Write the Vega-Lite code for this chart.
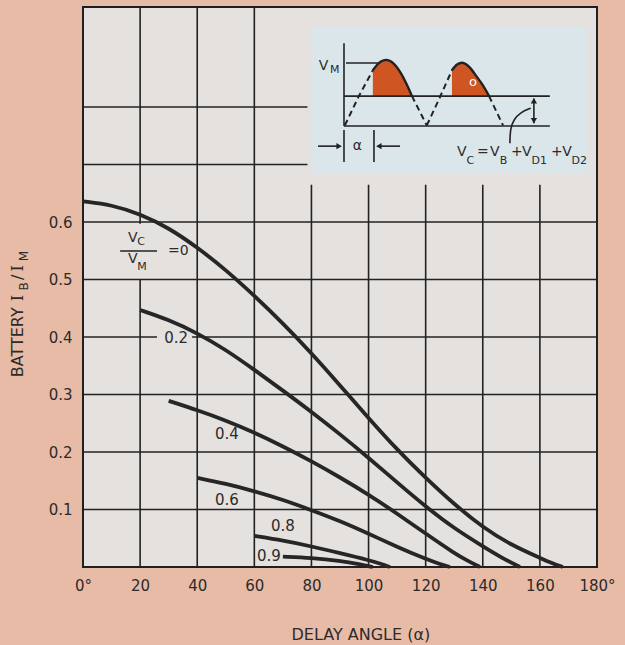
{
  "$schema": "https://vega.github.io/schema/vega-lite/v6.json",
  "width": 514,
  "height": 560,
  "autosize": {"type": "none"},
  "padding": {"left": 83, "top": 7, "right": 28, "bottom": 78},
  "background": "#e8bba6",
  "config": {
    "view": {"stroke": "#1f1f1f", "strokeWidth": 2, "fill": "#e5e1de"}
  },
  "datasets": {
    "grid": [
      {"x": 20, "x2": 20, "y": 0, "y2": 0.5},
      {"x": 20, "x2": 20, "y": 0.597, "y2": 0.974},
      {"x": 40, "x2": 40, "y": 0, "y2": 0.974},
      {"x": 60, "x2": 60, "y": 0, "y2": 0.974},
      {"x": 80, "x2": 80, "y": 0, "y2": 0.665},
      {"x": 100, "x2": 100, "y": 0, "y2": 0.665},
      {"x": 120, "x2": 120, "y": 0, "y2": 0.665},
      {"x": 140, "x2": 140, "y": 0, "y2": 0.665},
      {"x": 160, "x2": 160, "y": 0, "y2": 0.665},
      {"x": 0, "x2": 180, "y": 0.1, "y2": 0.1},
      {"x": 0, "x2": 180, "y": 0.2, "y2": 0.2},
      {"x": 0, "x2": 180, "y": 0.3, "y2": 0.3},
      {"x": 0, "x2": 25.9, "y": 0.4, "y2": 0.4},
      {"x": 38.2, "x2": 180, "y": 0.4, "y2": 0.4},
      {"x": 0, "x2": 180, "y": 0.5, "y2": 0.5},
      {"x": 0, "x2": 180, "y": 0.6, "y2": 0.6},
      {"x": 0, "x2": 78.6, "y": 0.7, "y2": 0.7},
      {"x": 0, "x2": 78.6, "y": 0.8, "y2": 0.8}
    ],
    "curves": [
      {"ratio": "0", "x": 0, "y": 0.636},
      {"ratio": "0", "x": 10, "y": 0.630},
      {"ratio": "0", "x": 20, "y": 0.614},
      {"ratio": "0", "x": 30, "y": 0.590},
      {"ratio": "0", "x": 40, "y": 0.556},
      {"ratio": "0", "x": 50, "y": 0.517},
      {"ratio": "0", "x": 60, "y": 0.472},
      {"ratio": "0", "x": 70, "y": 0.424},
      {"ratio": "0", "x": 80, "y": 0.372},
      {"ratio": "0", "x": 90, "y": 0.316},
      {"ratio": "0", "x": 100, "y": 0.259},
      {"ratio": "0", "x": 110, "y": 0.204},
      {"ratio": "0", "x": 120, "y": 0.155},
      {"ratio": "0", "x": 130, "y": 0.109},
      {"ratio": "0", "x": 140, "y": 0.069},
      {"ratio": "0", "x": 150, "y": 0.038},
      {"ratio": "0", "x": 160, "y": 0.016},
      {"ratio": "0", "x": 164, "y": 0.007},
      {"ratio": "0", "x": 168, "y": 0.0},
      {"ratio": "0.2", "x": 20, "y": 0.447},
      {"ratio": "0.2", "x": 30, "y": 0.430},
      {"ratio": "0.2", "x": 40, "y": 0.407},
      {"ratio": "0.2", "x": 50, "y": 0.378},
      {"ratio": "0.2", "x": 60, "y": 0.343},
      {"ratio": "0.2", "x": 70, "y": 0.307},
      {"ratio": "0.2", "x": 80, "y": 0.270},
      {"ratio": "0.2", "x": 90, "y": 0.231},
      {"ratio": "0.2", "x": 100, "y": 0.190},
      {"ratio": "0.2", "x": 110, "y": 0.147},
      {"ratio": "0.2", "x": 120, "y": 0.105},
      {"ratio": "0.2", "x": 130, "y": 0.067},
      {"ratio": "0.2", "x": 140, "y": 0.036},
      {"ratio": "0.2", "x": 147, "y": 0.015},
      {"ratio": "0.2", "x": 153, "y": 0.0},
      {"ratio": "0.4", "x": 30, "y": 0.289},
      {"ratio": "0.4", "x": 40, "y": 0.273},
      {"ratio": "0.4", "x": 50, "y": 0.255},
      {"ratio": "0.4", "x": 60, "y": 0.234},
      {"ratio": "0.4", "x": 70, "y": 0.210},
      {"ratio": "0.4", "x": 80, "y": 0.184},
      {"ratio": "0.4", "x": 90, "y": 0.156},
      {"ratio": "0.4", "x": 100, "y": 0.126},
      {"ratio": "0.4", "x": 110, "y": 0.093},
      {"ratio": "0.4", "x": 120, "y": 0.058},
      {"ratio": "0.4", "x": 130, "y": 0.024},
      {"ratio": "0.4", "x": 135, "y": 0.010},
      {"ratio": "0.4", "x": 139, "y": 0.0},
      {"ratio": "0.6", "x": 40, "y": 0.155},
      {"ratio": "0.6", "x": 50, "y": 0.145},
      {"ratio": "0.6", "x": 60, "y": 0.132},
      {"ratio": "0.6", "x": 70, "y": 0.117},
      {"ratio": "0.6", "x": 80, "y": 0.099},
      {"ratio": "0.6", "x": 90, "y": 0.080},
      {"ratio": "0.6", "x": 100, "y": 0.058},
      {"ratio": "0.6", "x": 110, "y": 0.035},
      {"ratio": "0.6", "x": 120, "y": 0.014},
      {"ratio": "0.6", "x": 125, "y": 0.005},
      {"ratio": "0.6", "x": 128.5, "y": 0.0},
      {"ratio": "0.8", "x": 60, "y": 0.054},
      {"ratio": "0.8", "x": 70, "y": 0.046},
      {"ratio": "0.8", "x": 80, "y": 0.036},
      {"ratio": "0.8", "x": 90, "y": 0.024},
      {"ratio": "0.8", "x": 100, "y": 0.012},
      {"ratio": "0.8", "x": 104, "y": 0.006},
      {"ratio": "0.8", "x": 107.5, "y": 0.0},
      {"ratio": "0.9", "x": 70, "y": 0.018},
      {"ratio": "0.9", "x": 80, "y": 0.016},
      {"ratio": "0.9", "x": 90, "y": 0.011},
      {"ratio": "0.9", "x": 97, "y": 0.005},
      {"ratio": "0.9", "x": 101.5, "y": 0.0}
    ],
    "curve_labels": [
      {"x": 32.6, "y": 0.398, "label": "0.2"},
      {"x": 50.4, "y": 0.231, "label": "0.4"},
      {"x": 50.4, "y": 0.117, "label": "0.6"},
      {"x": 70.0, "y": 0.071, "label": "0.8"},
      {"x": 65.1, "y": 0.019, "label": "0.9"}
    ],
    "frac_bar": [
      {"x": 13.0, "x2": 25.9, "y": 0.5496, "y2": 0.5496}
    ],
    "frac_main": [
      {"x": 15.8, "y": 0.572, "t": "V"},
      {"x": 15.8, "y": 0.535, "t": "V"},
      {"x": 29.8, "y": 0.55, "t": "=0"}
    ],
    "frac_sub": [
      {"x": 19.0, "y": 0.565, "t": "C"},
      {"x": 19.0, "y": 0.522, "t": "M"}
    ],
    "inset_box": [
      {"x": 80.2, "x2": 176.5, "y": 0.6852, "y2": 0.9374}
    ],
    "inset_fill": [
      {"hump": 1, "x": 101.5, "y": 0.866, "y2": 0.819},
      {"hump": 1, "x": 103.5, "y": 0.876, "y2": 0.819},
      {"hump": 1, "x": 106.2, "y": 0.882, "y2": 0.819},
      {"hump": 1, "x": 108.7, "y": 0.876, "y2": 0.819},
      {"hump": 1, "x": 111.3, "y": 0.859, "y2": 0.819},
      {"hump": 1, "x": 113.3, "y": 0.84, "y2": 0.819},
      {"hump": 1, "x": 115.2, "y": 0.819, "y2": 0.819},
      {"hump": 2, "x": 129.2, "y": 0.866, "y2": 0.819},
      {"hump": 2, "x": 131.0, "y": 0.874, "y2": 0.819},
      {"hump": 2, "x": 132.7, "y": 0.877, "y2": 0.819},
      {"hump": 2, "x": 135.0, "y": 0.871, "y2": 0.819},
      {"hump": 2, "x": 138.0, "y": 0.852, "y2": 0.819},
      {"hump": 2, "x": 140.0, "y": 0.838, "y2": 0.819},
      {"hump": 2, "x": 142.2, "y": 0.819, "y2": 0.819}
    ],
    "inset_dashed": [
      {"seg": 1, "x": 91.7, "y": 0.768},
      {"seg": 1, "x": 96.5, "y": 0.818},
      {"seg": 1, "x": 101.5, "y": 0.864},
      {"seg": 2, "x": 115.2, "y": 0.819},
      {"seg": 2, "x": 120.4, "y": 0.768},
      {"seg": 3, "x": 120.4, "y": 0.768},
      {"seg": 3, "x": 124.8, "y": 0.815},
      {"seg": 3, "x": 129.2, "y": 0.864},
      {"seg": 4, "x": 142.2, "y": 0.819},
      {"seg": 4, "x": 147.1, "y": 0.768}
    ],
    "inset_solid": [
      {"seg": 1, "x": 101.5, "y": 0.864},
      {"seg": 1, "x": 103.5, "y": 0.876},
      {"seg": 1, "x": 106.2, "y": 0.882},
      {"seg": 1, "x": 108.7, "y": 0.876},
      {"seg": 1, "x": 111.3, "y": 0.859},
      {"seg": 1, "x": 113.3, "y": 0.84},
      {"seg": 1, "x": 115.2, "y": 0.819},
      {"seg": 2, "x": 129.2, "y": 0.864},
      {"seg": 2, "x": 131.0, "y": 0.874},
      {"seg": 2, "x": 132.7, "y": 0.877},
      {"seg": 2, "x": 135.0, "y": 0.871},
      {"seg": 2, "x": 138.0, "y": 0.852},
      {"seg": 2, "x": 140.0, "y": 0.838},
      {"seg": 2, "x": 142.2, "y": 0.819}
    ],
    "inset_rules": [
      {"x": 91.4, "x2": 91.4, "y": 0.767, "y2": 0.911},
      {"x": 91.4, "x2": 163.5, "y": 0.767, "y2": 0.767},
      {"x": 91.4, "x2": 163.5, "y": 0.819, "y2": 0.819},
      {"x": 92.1, "x2": 103.3, "y": 0.8765, "y2": 0.8765},
      {"x": 157.9, "x2": 157.9, "y": 0.772, "y2": 0.815},
      {"x": 91.4, "x2": 91.4, "y": 0.7043, "y2": 0.76},
      {"x": 101.9, "x2": 101.9, "y": 0.7043, "y2": 0.76},
      {"x": 82.3, "x2": 90.0, "y": 0.732, "y2": 0.732},
      {"x": 103.3, "x2": 111.0, "y": 0.732, "y2": 0.732}
    ],
    "arrowheads": [
      {"x": 157.9, "y": 0.811, "dir": "up"},
      {"x": 157.9, "y": 0.776, "dir": "down"},
      {"x": 89.7, "y": 0.732, "dir": "right"},
      {"x": 103.6, "y": 0.732, "dir": "left"}
    ],
    "leader": [
      {"i": 0, "x": 149.5, "y": 0.737},
      {"i": 1, "x": 149.6, "y": 0.762},
      {"i": 2, "x": 150.8, "y": 0.778},
      {"i": 3, "x": 153.2, "y": 0.791},
      {"i": 4, "x": 156.8, "y": 0.798}
    ],
    "inset_main": [
      {"x": 82.6, "y": 0.871, "t": "V"},
      {"x": 94.5, "y": 0.732, "t": "α"},
      {"x": 130.95, "y": 0.7217, "t": "V"},
      {"x": 137.95, "y": 0.7217, "t": "="},
      {"x": 142.5, "y": 0.7217, "t": "V"},
      {"x": 149.9, "y": 0.7217, "t": "+"},
      {"x": 153.7, "y": 0.7217, "t": "V"},
      {"x": 163.9, "y": 0.7217, "t": "+"},
      {"x": 167.8, "y": 0.7217, "t": "V"}
    ],
    "inset_sub": [
      {"x": 86.5, "y": 0.864, "t": "M"},
      {"x": 134.3, "y": 0.706, "t": "C"},
      {"x": 145.9, "y": 0.706, "t": "B"},
      {"x": 157.1, "y": 0.706, "t": "D1"},
      {"x": 171.1, "y": 0.706, "t": "D2"}
    ],
    "inset_o": [
      {"x": 136.6, "y": 0.8435, "t": "o"}
    ],
    "ytitle_main": [
      {"x": -22.6, "y": 0.33, "t": "BATTERY"},
      {"x": -22.6, "y": 0.499, "t": "/"}
    ],
    "ytitle_serif": [
      {"x": -22.6, "y": 0.462, "t": "I"},
      {"x": -22.6, "y": 0.514, "t": "I"}
    ],
    "ytitle_sub": [
      {"x": -20.6, "y": 0.481, "t": "B"},
      {"x": -20.6, "y": 0.532, "t": "M"}
    ],
    "xtitle": [
      {"x": 97.3, "y": -0.118, "t": "DELAY ANGLE (α)"}
    ]
  },
  "encoding": {
    "x": {
      "field": "x",
      "type": "quantitative",
      "scale": {"domain": [0, 180], "nice": false, "zero": false},
      "axis": {
        "values": [0, 20, 40, 60, 80, 100, 120, 140, 160, 180],
        "grid": false,
        "ticks": false,
        "domain": false,
        "title": null,
        "labelFlush": false,
        "labelPadding": 11,
        "labelFont": "DejaVu Sans",
        "labelFontSize": 15,
        "labelColor": "#2b2b2b",
        "labelExpr": "datum.value == 0 || datum.value == 180 ? datum.label + '°' : datum.label"
      }
    },
    "y": {
      "field": "y",
      "type": "quantitative",
      "scale": {"domain": [0, 0.974], "nice": false, "zero": false},
      "axis": {
        "values": [0.1, 0.2, 0.3, 0.4, 0.5, 0.6],
        "format": ".1f",
        "grid": false,
        "ticks": false,
        "domain": false,
        "title": null,
        "labelPadding": 11,
        "labelFont": "DejaVu Sans",
        "labelFontSize": 15,
        "labelColor": "#2b2b2b"
      }
    }
  },
  "layer": [
    {
      "data": {"name": "grid"},
      "mark": {"type": "rule", "stroke": "#222222", "strokeWidth": 1.6},
      "encoding": {"x2": {"field": "x2"}, "y2": {"field": "y2"}}
    },
    {
      "data": {"name": "curves"},
      "mark": {"type": "line", "interpolate": "basis", "stroke": "#262626", "strokeWidth": 3.8},
      "encoding": {"detail": {"field": "ratio"}}
    },
    {
      "data": {"name": "curve_labels"},
      "mark": {"type": "text", "font": "DejaVu Sans", "fontSize": 15, "fill": "#2b2b2b", "align": "center", "baseline": "middle"},
      "encoding": {"text": {"field": "label"}}
    },
    {
      "data": {"name": "frac_bar"},
      "mark": {"type": "rule", "stroke": "#222222", "strokeWidth": 1.6},
      "encoding": {"x2": {"field": "x2"}, "y2": {"field": "y2"}}
    },
    {
      "data": {"name": "frac_main"},
      "mark": {"type": "text", "font": "DejaVu Sans", "fontSize": 14, "fill": "#2b2b2b", "align": "left", "baseline": "middle"},
      "encoding": {"text": {"field": "t"}}
    },
    {
      "data": {"name": "frac_sub"},
      "mark": {"type": "text", "font": "DejaVu Sans", "fontSize": 11, "fill": "#2b2b2b", "align": "left", "baseline": "middle"},
      "encoding": {"text": {"field": "t"}}
    },
    {
      "data": {"name": "inset_box"},
      "mark": {"type": "rect", "fill": "#dbe6ea"},
      "encoding": {"x2": {"field": "x2"}, "y2": {"field": "y2"}}
    },
    {
      "data": {"name": "inset_fill"},
      "mark": {"type": "area", "fill": "#cf5622", "interpolate": "monotone", "orient": "vertical"},
      "encoding": {"y2": {"field": "y2"}, "detail": {"field": "hump"}}
    },
    {
      "data": {"name": "inset_dashed"},
      "mark": {"type": "line", "stroke": "#222222", "strokeWidth": 2, "strokeDash": [6, 4]},
      "encoding": {"detail": {"field": "seg"}}
    },
    {
      "data": {"name": "inset_solid"},
      "mark": {"type": "line", "stroke": "#222222", "strokeWidth": 2.4, "interpolate": "monotone"},
      "encoding": {"detail": {"field": "seg"}}
    },
    {
      "data": {"name": "inset_rules"},
      "mark": {"type": "rule", "stroke": "#222222", "strokeWidth": 1.6},
      "encoding": {"x2": {"field": "x2"}, "y2": {"field": "y2"}}
    },
    {
      "data": {"name": "arrowheads"},
      "mark": {"type": "point", "filled": true, "fill": "#222222", "size": 40, "opacity": 1},
      "encoding": {
        "shape": {
          "field": "dir",
          "type": "nominal",
          "scale": {"domain": ["up", "down", "left", "right"], "range": ["triangle-up", "triangle-down", "triangle-left", "triangle-right"]},
          "legend": null
        }
      }
    },
    {
      "data": {"name": "leader"},
      "mark": {"type": "line", "stroke": "#222222", "strokeWidth": 1.6, "interpolate": "basis"},
      "encoding": {"order": {"field": "i", "type": "quantitative"}}
    },
    {
      "data": {"name": "inset_main"},
      "mark": {"type": "text", "font": "DejaVu Sans", "fontSize": 14, "fill": "#2b2b2b", "align": "left", "baseline": "middle"},
      "encoding": {"text": {"field": "t"}}
    },
    {
      "data": {"name": "inset_sub"},
      "mark": {"type": "text", "font": "DejaVu Sans", "fontSize": 11, "fill": "#2b2b2b", "align": "left", "baseline": "middle"},
      "encoding": {"text": {"field": "t"}}
    },
    {
      "data": {"name": "inset_o"},
      "mark": {"type": "text", "font": "DejaVu Sans", "fontSize": 13, "fill": "#ffffff", "align": "center", "baseline": "middle"},
      "encoding": {"text": {"field": "t"}}
    },
    {
      "data": {"name": "ytitle_main"},
      "mark": {"type": "text", "font": "DejaVu Sans", "fontSize": 16, "fill": "#2b2b2b", "align": "left", "baseline": "middle", "angle": 270},
      "encoding": {"text": {"field": "t"}}
    },
    {
      "data": {"name": "ytitle_serif"},
      "mark": {"type": "text", "font": "DejaVu Serif", "fontSize": 16, "fill": "#2b2b2b", "align": "left", "baseline": "middle", "angle": 270},
      "encoding": {"text": {"field": "t"}}
    },
    {
      "data": {"name": "ytitle_sub"},
      "mark": {"type": "text", "font": "DejaVu Sans", "fontSize": 12, "fill": "#2b2b2b", "align": "left", "baseline": "middle", "angle": 270},
      "encoding": {"text": {"field": "t"}}
    },
    {
      "data": {"name": "xtitle"},
      "mark": {"type": "text", "font": "DejaVu Sans", "fontSize": 16, "fill": "#2b2b2b", "align": "center", "baseline": "middle"},
      "encoding": {"text": {"field": "t"}}
    }
  ]
}
